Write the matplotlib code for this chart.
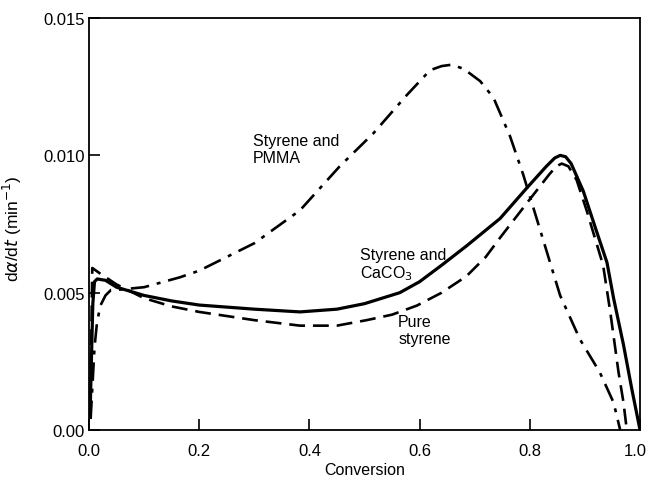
import matplotlib
matplotlib.use("Agg")
import matplotlib.pyplot as plt
from matplotlib.transforms import ScaledTranslation

# Styrene and CaCO3 (solid)
caco3_x = [0.002, 0.004, 0.007, 0.010, 0.015, 0.03, 0.05, 0.1, 0.15, 0.2, 0.3, 0.383, 0.45, 0.5,
           0.564, 0.6, 0.64, 0.685, 0.746, 0.794, 0.83, 0.845, 0.855, 0.865, 0.875, 0.897, 0.92,
           0.94, 0.952, 0.97, 0.985, 1.0]
caco3_y = [0.0005, 0.0022, 0.0046, 0.0054, 0.0055, 0.00545, 0.0052, 0.0049, 0.0047, 0.00455, 0.0044,
           0.0043, 0.0044, 0.0046, 0.0050, 0.0054, 0.0060, 0.0067, 0.0077, 0.0088, 0.0096, 0.00990,
           0.0100, 0.00995, 0.0097, 0.0087, 0.0073, 0.0061, 0.0048, 0.0031, 0.0015, 0.0]

# Pure styrene (dashed)
pure_x = [0.002, 0.004, 0.006, 0.02, 0.05, 0.1, 0.15, 0.2, 0.3, 0.383, 0.45, 0.504, 0.55, 0.595,
          0.64, 0.685, 0.72, 0.746, 0.80, 0.835, 0.848, 0.858, 0.87, 0.885, 0.903, 0.933, 0.946,
          0.961, 0.97, 0.976]
pure_y = [0.0005, 0.0030, 0.0059, 0.0057, 0.0053, 0.0048, 0.0045, 0.0043, 0.0040, 0.0038, 0.0038,
          0.0040, 0.0042, 0.00453, 0.0050, 0.0056, 0.0063, 0.0070, 0.0084, 0.0093, 0.0096, 0.0097,
          0.0096, 0.0091, 0.0080, 0.0060, 0.0043, 0.0021, 0.0010, 0.0]

# Styrene and PMMA (dash-dot)
pmma_x = [0.003, 0.006, 0.010, 0.014, 0.02, 0.03, 0.04, 0.05, 0.1, 0.165, 0.2, 0.3, 0.383, 0.455,
          0.516, 0.577, 0.619, 0.64, 0.658, 0.68, 0.71, 0.734, 0.764, 0.788, 0.82, 0.855, 0.891,
          0.927, 0.952, 0.964]
pmma_y = [0.0004, 0.0015, 0.0030, 0.0038, 0.0045, 0.0049, 0.0051, 0.0051, 0.0052, 0.00556, 0.0058,
          0.0068, 0.0080, 0.0096, 0.0108, 0.0122, 0.0131, 0.01325, 0.0133, 0.01315, 0.0127, 0.0121,
          0.0107, 0.0093, 0.0072, 0.0049, 0.0033, 0.0021, 0.0010, 0.0]

xticks = [0.0, 0.2, 0.4, 0.6, 0.8, 1.0]
xticklabels = ["0.0", "0.2", "0.4", "0.6", "0.8", "1.0"]
yticks = [0.0, 0.005, 0.010, 0.015]
yticklabels = ["0.00", "0.005", "0.010", "0.015"]

plt.rcParams['font.family'] = ['Liberation Sans', 'DejaVu Sans']

fig = plt.figure(figsize=(6.48, 4.85), dpi=100)
ax = fig.add_axes([0.1373, 0.1113, 0.8504, 0.8495])

ax.plot(caco3_x, caco3_y, color='black', lw=2.3, ls='-')
ax.plot(pure_x, pure_y, color='black', lw=1.9, ls=(0, (6, 3)))
ax.plot(pmma_x, pmma_y, color='black', lw=1.9, ls=(0, (7, 3, 1.5, 3)))

ax.set_xlim(0, 1.0)
ax.set_ylim(0, 0.015)
ax.set_xticks(xticks)
ax.set_xticklabels(xticklabels)
ax.set_yticks(yticks)
ax.set_yticklabels(yticklabels)
ax.tick_params(direction='in', length=8, width=1.2, labelsize=12)
ax.tick_params(axis='x', pad=9)
ax.tick_params(axis='y', pad=3)
ax.minorticks_off()
for s in ax.spines.values():
    s.set_linewidth(1.3)

# keep the last x tick label inside the figure
last = ax.get_xticklabels()[-1]
last.set_transform(last.get_transform() + ScaledTranslation(-5 / 100, 0, fig.dpi_scale_trans))

ax.set_xlabel("Conversion", fontsize=11.5, labelpad=3)
ax.set_ylabel(r"d$\alpha$/d$t$ (min$^{-1}$)", fontsize=12.5)
ax.yaxis.set_label_coords(-0.118, 0.49)

ax.text(0.298, 0.0108, "Styrene and\nPMMA", fontsize=11.5, va='top', ha='left', linespacing=1.15)
ax.text(0.492, 0.00668, "Styrene and\nCaCO$_3$", fontsize=11.5, va='top', ha='left', linespacing=1.15)
ax.text(0.561, 0.00422, "Pure\nstyrene", fontsize=11.5, va='top', ha='left', linespacing=1.15)

fig.savefig("out.png", dpi=100)
